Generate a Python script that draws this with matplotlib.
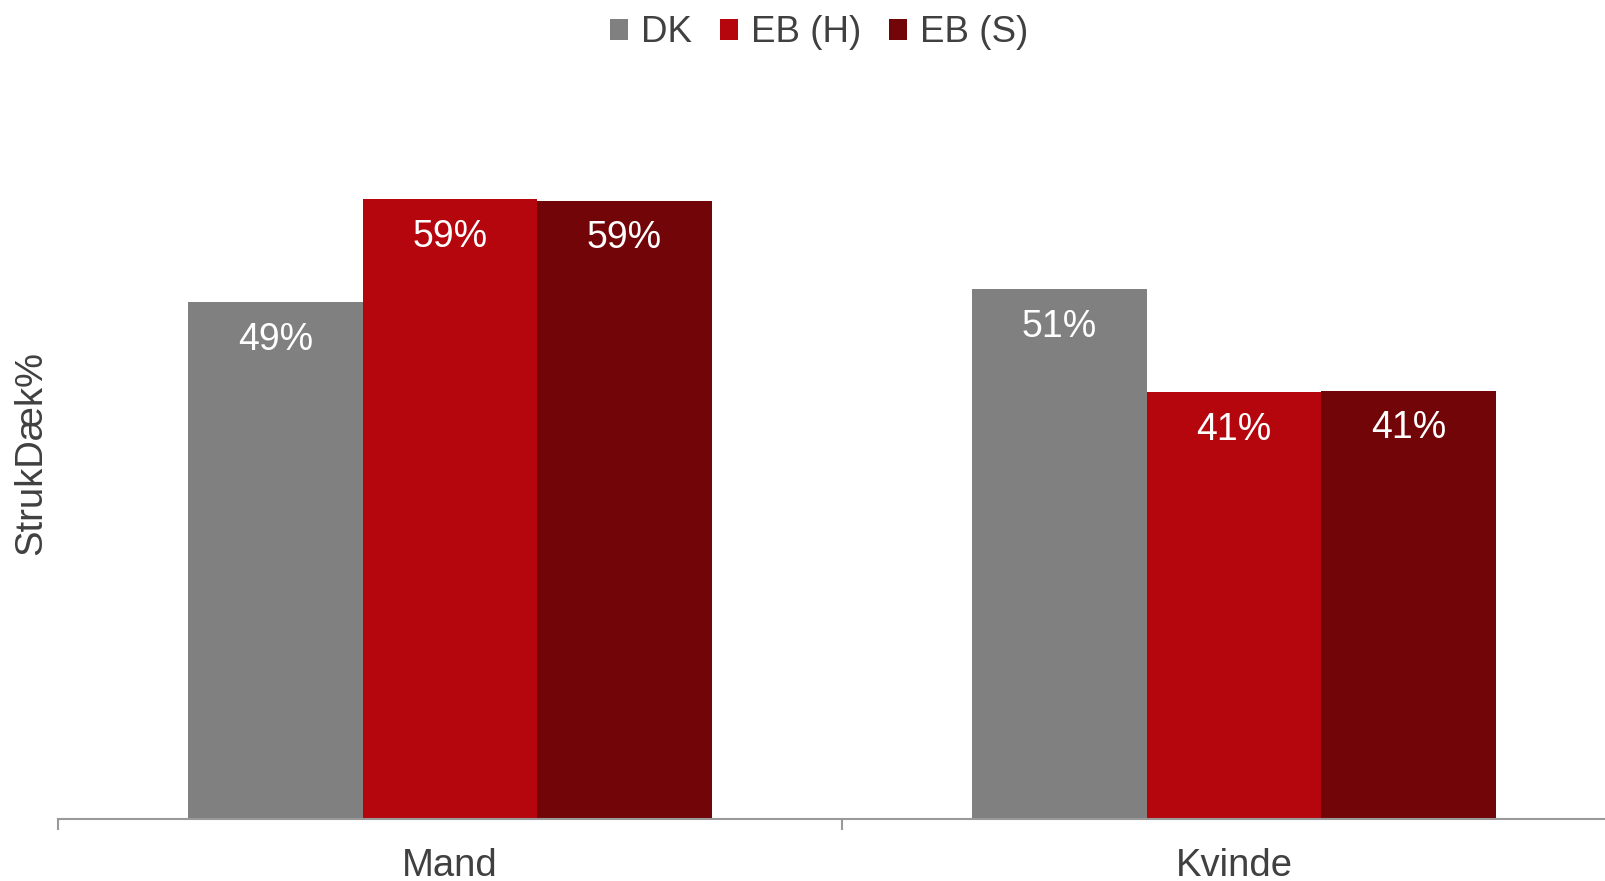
import matplotlib
matplotlib.use("Agg")
import matplotlib.pyplot as plt
import numpy as np
from matplotlib.patches import Patch

plt.rcParams['font.family'] = ['Liberation Sans', 'DejaVu Sans']

categories = ["Mand", "Kvinde"]
series_names = ["DK", "EB (H)", "EB (S)"]
dk = [49.4, 50.6]
eb_h = [59.2, 40.8]
eb_s = [59.1, 40.9]
series_values = [dk, eb_h, eb_s]
colors = ["#808080", "#B5060E", "#720508"]
y_label = "StrukDæk%"

text_color = "#404040"
fig = plt.figure(figsize=(16.06, 8.81), dpi=100)
W, H = 1606, 881
left_px, right_px = 58, 1626
bottom_px, top_px = 819, 819 - 70 * 10.465
ax = fig.add_axes([left_px / W, (H - bottom_px) / H, (right_px - left_px) / W, (bottom_px - top_px) / H])

x = np.arange(len(categories))
bw = 0.2226
for i, (vals, c) in enumerate(zip(series_values, colors)):
    pos = x + (i - 1) * bw
    bars = ax.bar(pos, vals, width=bw, color=c, label=series_names[i], zorder=2)
    for xx, v in zip(pos, vals):
        ax.annotate(f"{v:.0f}%", xy=(xx, v), xytext=(0, -27), textcoords="offset points",
                    ha="center", va="center", color="white", fontsize=27)

ax.set_xlim(-0.5, len(categories) - 0.5)
ax.set_ylim(0, 70)
ax.set_yticks([])
for s in ["top", "right", "left"]:
    ax.spines[s].set_visible(False)
ax.spines["bottom"].set_color("#999999")
ax.spines["bottom"].set_linewidth(1.5)
ax.set_xticks(np.arange(-0.5, len(categories) + 0.5, 1.0))
ax.set_xticklabels([])
ax.tick_params(axis="x", which="major", length=8, width=1.5, color="#999999")
ax.set_xticks(x, minor=True)
ax.set_xticklabels(categories, minor=True)
ax.tick_params(axis="x", which="minor", length=0, pad=21, labelsize=27.5, labelcolor=text_color)

fig.text(31 / W, 1 - 453 / H, y_label, rotation=90, ha="center", va="center",
         fontsize=27.5, color=text_color)

handles = [Patch(facecolor=c, edgecolor="none", label=n) for c, n in zip(colors, series_names)]
fig.legend(handles=handles, loc="center", bbox_to_anchor=(819 / W, 1 - 33 / H), ncol=3,
           frameon=False, fontsize=26.5, labelcolor=text_color, handlelength=0.5,
           handleheight=0.5, handletextpad=0.35, columnspacing=0.75)

fig.savefig("out.png", dpi=100)
